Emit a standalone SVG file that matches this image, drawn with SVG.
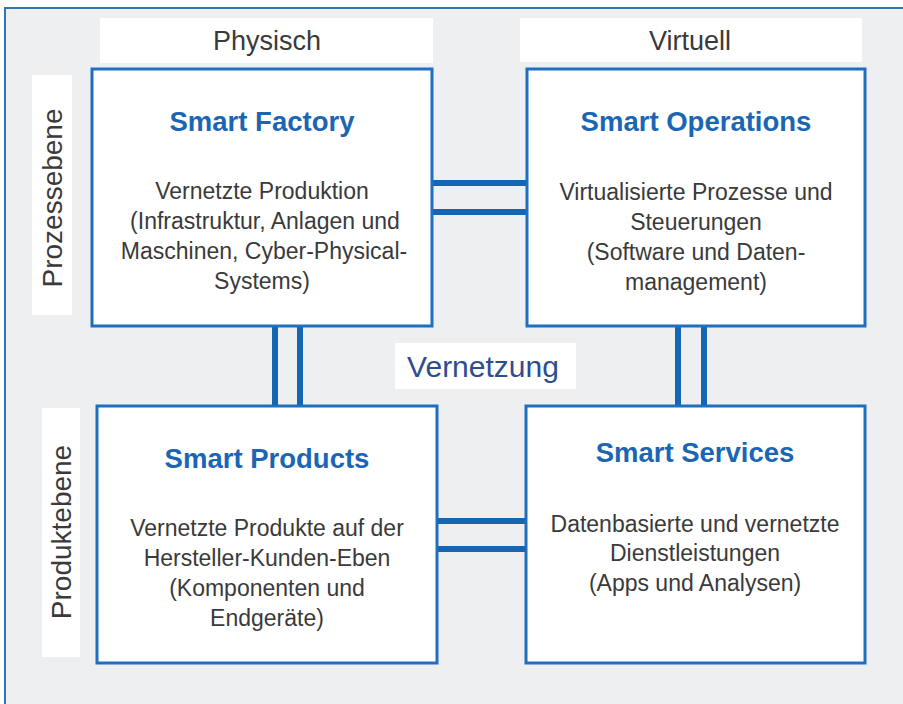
<svg xmlns="http://www.w3.org/2000/svg" width="903" height="704" viewBox="0 0 903 704">
<style>
.box{fill:#ffffff;stroke:#1f6fbf;stroke-width:3}
.lab{fill:#ffffff}
.bar{fill:#1565b5}
.title{font-family:"Liberation Sans",Arial,sans-serif;font-weight:bold;font-size:27.5px;fill:#1b66b4;text-anchor:middle}
.body{font-family:"Liberation Sans",Arial,sans-serif;font-size:23px;fill:#3a3a3a;text-anchor:middle}
.head{font-family:"Liberation Sans",Arial,sans-serif;font-size:27px;fill:#3a3a3a;text-anchor:middle}
.row{font-family:"Liberation Sans",Arial,sans-serif;font-size:28px;fill:#3a3a3a;text-anchor:middle}
</style>
<rect x="0" y="0" width="903" height="704" fill="#ffffff"/>
<rect x="5" y="8" width="898" height="696" fill="#eeeff1"/>
<path d="M5,704 V8 H903" fill="none" stroke="#2f74c0" stroke-width="2"/>
<g id="header-physisch">
<rect class="lab" x="100" y="18" width="333" height="45"/>
<text class="head" x="267" y="50">Physisch</text>
</g>
<g id="header-virtuell">
<rect class="lab" x="520" y="18" width="342" height="44"/>
<text class="head" x="690" y="50">Virtuell</text>
</g>
<g id="row-prozessebene">
<rect class="lab" x="32" y="75" width="40" height="240"/>
<text class="row" transform="translate(62,198) rotate(-90)">Prozessebene</text>
</g>
<g id="row-produktebene">
<rect class="lab" x="42" y="408" width="38" height="249"/>
<text class="row" transform="translate(71,532) rotate(-90)">Produktebene</text>
</g>
<g id="connectors">
<rect class="bar" x="432" y="180" width="95" height="6"/>
<rect class="bar" x="432" y="209" width="95" height="6"/>
<rect class="bar" x="437" y="518" width="89" height="6"/>
<rect class="bar" x="437" y="546" width="89" height="6"/>
<rect class="bar" x="272" y="326" width="6" height="80"/>
<rect class="bar" x="297" y="326" width="6" height="80"/>
<rect class="bar" x="675" y="326" width="6" height="80"/>
<rect class="bar" x="701" y="326" width="6" height="80"/>
</g>
<g id="vernetzung">
<rect class="lab" x="395" y="343" width="181" height="46"/>
<text x="483" y="377" font-family="Liberation Sans, Arial, sans-serif" font-size="30" fill="#2e4d8f" text-anchor="middle">Vernetzung</text>
</g>
<g id="smart-factory">
<rect class="box" x="92" y="69" width="340" height="257"/>
<text class="title" x="262" y="131">Smart Factory</text>
<text class="body" x="262" y="199">Vernetzte Produktion</text>
<text class="body" x="265" y="229">(Infrastruktur, Anlagen und</text>
<text class="body" x="264" y="259">Maschinen, Cyber-Physical-</text>
<text class="body" x="262" y="289">Systems)</text>
</g>
<g id="smart-operations">
<rect class="box" x="527" y="69" width="338" height="257"/>
<text class="title" x="696" y="131">Smart Operations</text>
<text class="body" x="696" y="200">Virtualisierte Prozesse und</text>
<text class="body" x="696" y="230">Steuerungen</text>
<text class="body" x="696" y="260">(Software und Daten-</text>
<text class="body" x="696" y="290">management)</text>
</g>
<g id="smart-products">
<rect class="box" x="97" y="406" width="340" height="257"/>
<text class="title" x="267" y="468">Smart Products</text>
<text class="body" x="267" y="536">Vernetzte Produkte auf der</text>
<text class="body" x="267" y="566">Hersteller-Kunden-Eben</text>
<text class="body" x="267" y="596">(Komponenten und</text>
<text class="body" x="267" y="626">Endgeräte)</text>
</g>
<g id="smart-services">
<rect class="box" x="526" y="406" width="339" height="257"/>
<text class="title" x="695" y="462">Smart Services</text>
<text class="body" x="695" y="532">Datenbasierte und vernetzte</text>
<text class="body" x="695" y="561">Dienstleistungen</text>
<text class="body" x="695" y="591">(Apps und Analysen)</text>
</g>
</svg>
